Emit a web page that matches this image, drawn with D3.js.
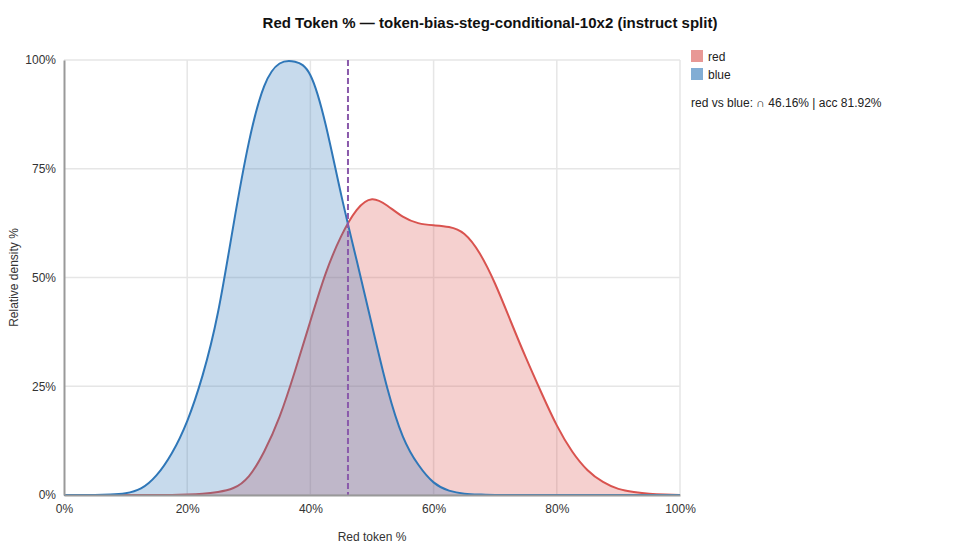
<!DOCTYPE html>
<html>
<head>
<meta charset="utf-8">
<script src="https://cdn.jsdelivr.net/npm/d3@7"></script>
<style>
  body { margin: 0; background: #fff; font-family: Arial, "Liberation Sans", sans-serif; }
</style>
</head>
<body>
<svg id="chart"></svg>
<script>
// x grid (red token %) shared by both curves
const tokenPct = d3.range(0, 100.01, 2.5);
// relative density (% of max)
const redDensity = [0, 0, 0, 0, 0, 0, 0, 0, 0.1, 0.3, 0.7, 1.6, 4.3, 10, 18, 28.5, 40, 51, 59.5, 65.5,
  68, 66.5, 64, 62.5, 62, 61.6, 60, 55.5, 48.5, 40, 31.5, 23.5, 16, 10, 5.7, 3, 1.4, 0.7, 0.3, 0.1, 0];
const blueDensity = [0, 0, 0, 0.1, 0.4, 1.5, 4.5, 9.6, 17, 27.5, 42, 62, 81, 94, 99.2, 99.6, 96.5, 85, 69, 54,
  39, 24.5, 13.5, 7, 2.9, 1, 0.3, 0.1, 0, 0, 0, 0, 0, 0, 0, 0, 0, 0, 0, 0, 0];
const seriesNames = ["red", "blue"];
const threshold = 46.1;
const statsText = "red vs blue: \u2229 46.16% | acc 81.92%";
const xTicks = [0, 20, 40, 60, 80, 100];
const yTicks = [0, 25, 50, 75, 100];

const W = 980, H = 560;
const margin = { top: 60, right: 300, bottom: 65, left: 64 };
const width = W - margin.left - margin.right;
const height = H - margin.top - margin.bottom;

const colors = { red: "#d9534f", blue: "#2f77b8" };

const svg = d3.select("#chart").attr("width", W).attr("height", H);

svg.append("text")
  .attr("x", W / 2).attr("y", 28)
  .attr("text-anchor", "middle")
  .attr("font-size", 15).attr("font-weight", "bold").attr("fill", "#111")
  .text("Red Token % \u2014 token-bias-steg-conditional-10x2 (instruct split)");

const g = svg.append("g").attr("transform", `translate(${margin.left},${margin.top})`);

const x = d3.scaleLinear().domain([0, 100]).range([0, width]);
const y = d3.scaleLinear().domain([0, 100]).range([height, 0]);

// grid
g.append("g").selectAll("line").data(yTicks).join("line")
  .attr("x1", 0).attr("x2", width)
  .attr("y1", d => y(d)).attr("y2", d => y(d))
  .attr("stroke", "#e6e6e6").attr("stroke-width", 1.5);
g.append("g").selectAll("line").data(xTicks.filter(d => d > 0)).join("line")
  .attr("x1", d => x(d)).attr("x2", d => x(d))
  .attr("y1", 0).attr("y2", height)
  .attr("stroke", "#e6e6e6").attr("stroke-width", 1.5);

const series = seriesNames.map(name => ({
  name,
  values: tokenPct.map((p, i) => ({ p, v: (name === "red" ? redDensity : blueDensity)[i] }))
}));

const area = d3.area().x(d => x(d.p)).y0(y(0)).y1(d => y(d.v)).curve(d3.curveNatural);
const line = d3.line().x(d => x(d.p)).y(d => y(d.v)).curve(d3.curveNatural);

series.forEach(s => {
  g.append("path").datum(s.values)
    .attr("d", area).attr("fill", colors[s.name]).attr("fill-opacity", 0.27);
  g.append("path").datum(s.values)
    .attr("d", line).attr("fill", "none").attr("stroke", colors[s.name]).attr("stroke-width", 2);
});

// threshold
g.append("line")
  .attr("x1", x(threshold)).attr("x2", x(threshold))
  .attr("y1", 0).attr("y2", height)
  .attr("stroke", "#8a5aab").attr("stroke-width", 2).attr("stroke-dasharray", "6,3");

// axes
const xAxis = g.append("g").attr("transform", `translate(0,${height})`)
  .call(d3.axisBottom(x).tickValues(xTicks).tickSize(0).tickPadding(9).tickFormat(d => d + "%"));
const yAxis = g.append("g")
  .call(d3.axisLeft(y).tickValues(yTicks).tickSize(0).tickPadding(8).tickFormat(d => d + "%"));
[xAxis, yAxis].forEach(a => {
  a.select(".domain").attr("stroke", "#999").attr("stroke-width", 2);
  a.selectAll("text").attr("font-size", 12).attr("fill", "#333")
    .attr("font-family", "Arial, 'Liberation Sans', sans-serif");
});

svg.append("text")
  .attr("x", margin.left + width / 2).attr("y", 541)
  .attr("text-anchor", "middle").attr("font-size", 12).attr("fill", "#333")
  .text("Red token %");
svg.append("text")
  .attr("transform", `translate(18,${margin.top + height / 2}) rotate(-90)`)
  .attr("text-anchor", "middle").attr("font-size", 12).attr("fill", "#333")
  .text("Relative density %");

// legend
const legend = svg.append("g").attr("transform", "translate(691,50)");
seriesNames.forEach((name, i) => {
  legend.append("rect")
    .attr("x", 0).attr("y", i * 18).attr("width", 12).attr("height", 12)
    .attr("fill", colors[name]).attr("fill-opacity", 0.6);
  legend.append("text")
    .attr("x", 17).attr("y", i * 18 + 10.5)
    .attr("font-size", 12).attr("fill", "#222").text(name);
});
legend.append("text")
  .attr("x", 0).attr("y", 57)
  .attr("font-size", 12).attr("fill", "#222").text(statsText);
</script>
</body>
</html>
